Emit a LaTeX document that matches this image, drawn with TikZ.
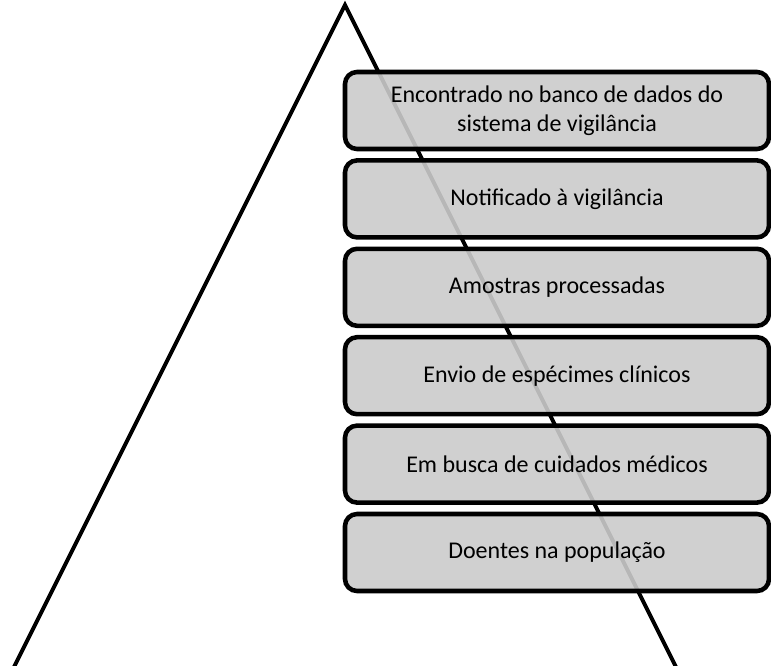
\documentclass[tikz,border=0pt]{standalone}
\usepackage{fontspec}
\setmainfont{Carlito}
\definecolor{boxfill}{RGB}{203,203,203}
\begin{document}
\begin{tikzpicture}[x=0.75pt,y=-0.75pt,
  tri/.style={line width=3pt},
  stage/.style={draw=black, line width=3.4pt, rounded corners=9pt,
    fill=boxfill, fill opacity=0.9, draw opacity=1, text opacity=1,
    minimum width=318pt, minimum height=57.75pt, align=center,
    inner sep=0pt, font=\fontsize{18}{21.5}\selectfont}]
\useasboundingbox (0,0) rectangle (771,665);
\coordinate (apex) at (345,5);
\coordinate (bl) at (14,667);
\coordinate (br) at (676,667);
\draw[tri] (bl) -- (apex) -- (br);
\node[stage] (b1) at (557,110.5) {Encontrado no banco de dados do\\sistema de vigilância};
\node[stage] (b2) at (557,198.9) {Notificado à vigilância};
\node[stage] (b3) at (557,287.3) {Amostras processadas};
\node[stage] (b4) at (557,375.7) {Envio de espécimes clínicos};
\node[stage] (b5) at (557,464.1) {Em busca de cuidados médicos};
\node[stage] (b6) at (557,552.5) {Doentes na população};
\end{tikzpicture}
\end{document}
